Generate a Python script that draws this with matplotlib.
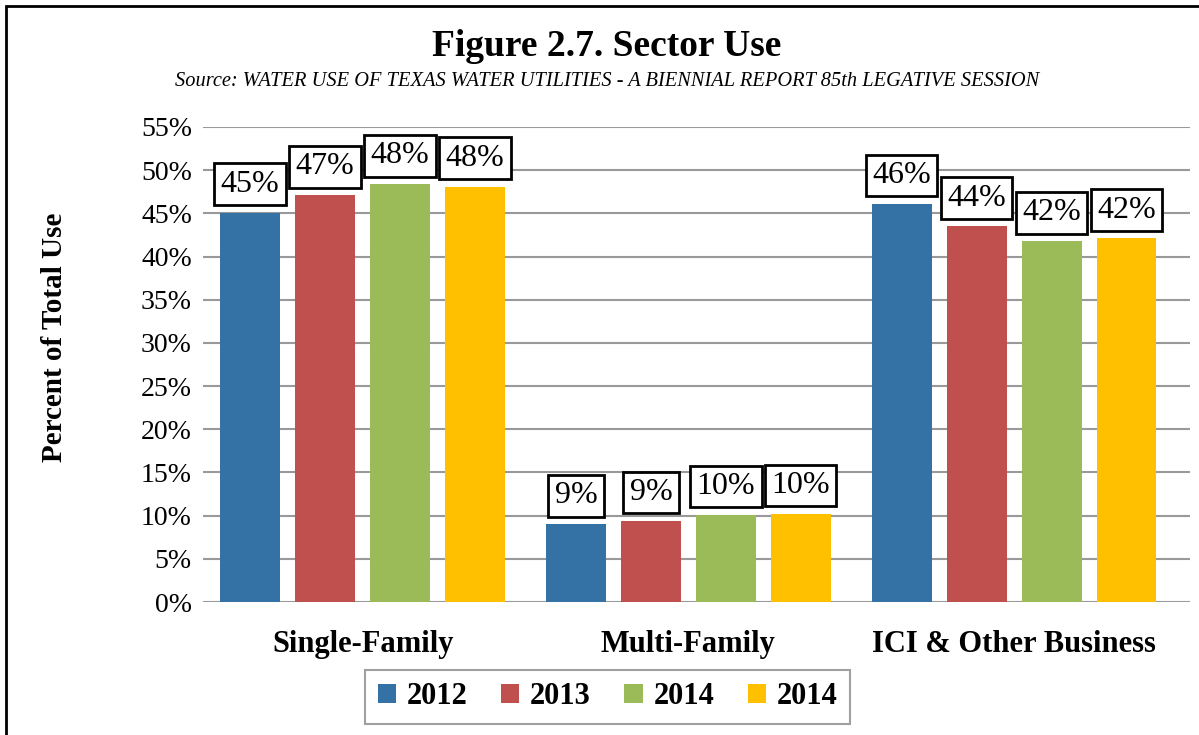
import matplotlib.pyplot as plt
import matplotlib.patches as mpatches
import numpy as np

plt.rcParams['font.family'] = ['Liberation Serif', 'DejaVu Serif']

categories = ['Single-Family', 'Multi-Family', 'ICI & Other Business']
series_names = ['2012', '2013', '2014', '2014']
v2012 = [45.1, 9.0, 46.1]
v2013 = [47.1, 9.4, 43.5]
v2014 = [48.4, 10.1, 41.8]
v2014b = [48.1, 10.2, 42.1]
labels2012 = ['45%', '9%', '46%']
labels2013 = ['47%', '9%', '44%']
labels2014 = ['48%', '10%', '42%']
labels2014b = ['48%', '10%', '42%']
colors = ['#3471A5', '#C0504D', '#9BBB59', '#FFC000']

values = [v2012, v2013, v2014, v2014b]
labels = [labels2012, labels2013, labels2014, labels2014b]

fig = plt.figure(figsize=(11.99, 7.35), dpi=100)
ax = fig.add_axes([203/1199, 1-602/735, (1190-203)/1199, 475/735])

x = np.arange(len(categories))
w = 0.184
pitch = 0.23
for i, (vals, labs) in enumerate(zip(values, labels)):
    pos = x + (i - 1.5) * pitch
    ax.bar(pos, vals, width=w, color=colors[i], label=series_names[i], zorder=3)
    for p, v, l in zip(pos, vals, labs):
        ax.text(p, v + 1.6, l, ha='center', va='bottom', fontsize=23, zorder=5,
                bbox=dict(boxstyle='square,pad=0.2', fc='white', ec='black', lw=2))

ax.set_xlim(-0.49, 2.54)
ax.set_ylim(0, 55)
ax.set_yticks(np.arange(0, 56, 5))
ax.set_yticklabels([f'{t}%' for t in range(0, 56, 5)], fontsize=20)
ax.set_xticks(x)
ax.set_xticklabels(categories, fontsize=22, fontweight='bold')
ax.tick_params(length=0, pad=8)
ax.tick_params(axis='x', pad=20)
ax.grid(axis='y', color='#999999', lw=1.5, zorder=0)
for s in ax.spines.values():
    s.set_visible(False)

ax.set_ylabel('Percent of Total Use', fontsize=21, fontweight='bold')
ax.yaxis.set_label_coords(-0.137, 0.558)

fig.text(0.506, 1-47/735, 'Figure 2.7. Sector Use', ha='center', va='center',
         fontsize=27, fontweight='bold')
fig.text(0.506, 1-81/735,
         'Source: WATER USE OF TEXAS WATER UTILITIES - A BIENNIAL REPORT 85th LEGATIVE SESSION',
         ha='center', va='center', fontsize=14.7, style='italic')

leg = ax.legend(loc='center', bbox_to_anchor=(0.41, -0.2), ncol=4,
                prop={'weight': 'bold', 'size': 22}, frameon=True, fancybox=False,
                edgecolor='#888888', handlelength=0.6, handleheight=0.6,
                handletextpad=0.35, columnspacing=1.1, borderpad=0.4)
leg.get_frame().set_linewidth(1.5)

fig.patches.append(mpatches.Rectangle((6/1199, -0.1), 1.2, 1 - 6/735 + 0.1,
                                      transform=fig.transFigure, fill=False,
                                      ec='black', lw=2))

fig.savefig('out.png', dpi=100)
